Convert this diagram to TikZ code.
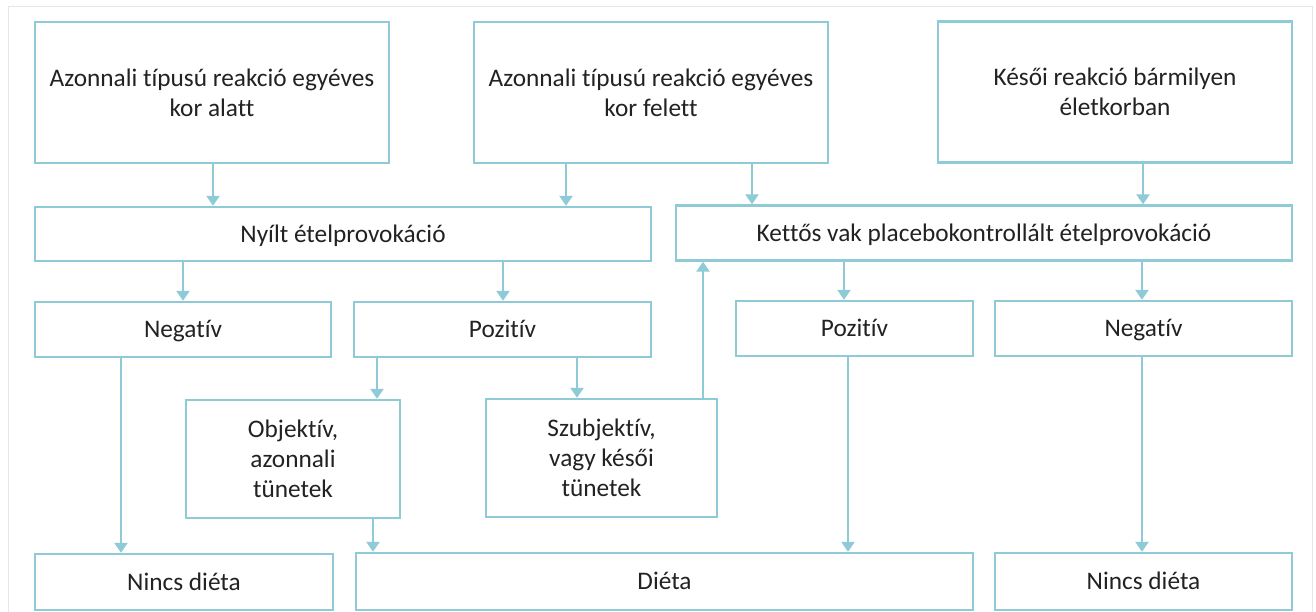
\documentclass[tikz,border=0pt]{standalone}
\usepackage{fontspec}
\setmainfont[Ligatures=NoCommon]{Carlito}
\usetikzlibrary{arrows.meta}
\definecolor{boxblue}{HTML}{8FCBD7}
\definecolor{txt}{HTML}{222222}
\definecolor{framegray}{HTML}{E6E6E6}
\begin{document}
\begin{tikzpicture}[x=1pt,y=-1pt,
  bx/.style={draw=boxblue, line width=2.4pt, inner sep=0pt, text=txt,
    font=\fontsize{25.3}{30}\selectfont, align=center},
  one/.style={text height=18pt, text depth=2pt},
  arr/.style={draw=boxblue, line width=2.4pt, -{Triangle[width=13pt,length=10pt]}}]
\useasboundingbox (0,0) rectangle (1316,611);
\fill[white] (0,0) rectangle (1316,611);
\draw[framegray, line width=1pt] (8,6) rectangle (1312,620);

% row 1
\node[bx, minimum width=354pt, minimum height=141pt] (A1) at (212,92.5) {Azonnali típusú reakció egyéves\\kor alatt};
\node[bx, minimum width=354pt, minimum height=141pt] (A2) at (651,92.5) {Azonnali típusú reakció egyéves\\kor felett};
\node[bx, minimum width=354pt, minimum height=141pt] (A3) at (1115,92) {Késői reakció bármilyen\\életkorban};
% row 2
\node[bx, one, minimum width=616pt, minimum height=54pt] (NY) at (343,234) {Nyílt ételprovokáció};
\node[bx, one, minimum width=616pt, minimum height=55pt] (KV) at (984,233) {Kettős vak placebokontrollált ételprovokáció};
% row 3
\node[bx, one, minimum width=296pt, minimum height=55pt] (NL) at (183,329.5) {Negatív};
\node[bx, one, minimum width=297pt, minimum height=55pt] (PL) at (502.5,329.5) {Pozitív};
\node[bx, one, minimum width=237pt, minimum height=55pt] (PR) at (854.5,328.5) {Pozitív};
\node[bx, one, minimum width=297pt, minimum height=55pt] (NR) at (1143.5,328.5) {Negatív};
% row 4
\node[bx, minimum width=214pt, minimum height=118pt] (OB) at (293,459) {Objektív,\\azonnali\\tünetek};
\node[bx, minimum width=231pt, minimum height=118pt] (SZ) at (601.5,458) {Szubjektív,\\vagy késői\\tünetek};
% row 5
\node[bx, one, minimum width=298pt, minimum height=56pt] (DL) at (184,582) {Nincs diéta};
\node[bx, one, minimum width=617pt, minimum height=57pt] (DI) at (664.5,581.5) {Diéta};
\node[bx, one, minimum width=297pt, minimum height=57pt] (DR) at (1143.5,581.5) {Nincs diéta};

% x positions of connectors
\coordinate (x1) at (213,0);
\coordinate (x2) at (566,0);
\coordinate (x3) at (752,0);
\coordinate (x4) at (1143,0);
\coordinate (x5) at (183,0);
\coordinate (x6) at (503,0);
\coordinate (x7) at (844,0);
\coordinate (x8) at (1142,0);
\coordinate (x9) at (377,0);
\coordinate (x10) at (577,0);
\coordinate (x11) at (703,0);
\coordinate (x12) at (121,0);
\coordinate (x13) at (373,0);
\coordinate (x14) at (848,0);

\draw[arr] (A1.south -| x1) -- (NY.north -| x1);
\draw[arr] (A2.south -| x2) -- (NY.north -| x2);
\draw[arr] (A2.south -| x3) -- (KV.north -| x3);
\draw[arr] (A3.south -| x4) -- (KV.north -| x4);
\draw[arr] (NY.south -| x5) -- (NL.north -| x5);
\draw[arr] (NY.south -| x6) -- (PL.north -| x6);
\draw[arr] (KV.south -| x7) -- (PR.north -| x7);
\draw[arr] (KV.south -| x8) -- (NR.north -| x8);
\draw[arr] (PL.south -| x9) -- (OB.north -| x9);
\draw[arr] (PL.south -| x10) -- (SZ.north -| x10);
\draw[arr] (SZ.north -| x11) -- (KV.south -| x11);
\draw[arr] (NL.south -| x12) -- (DL.north -| x12);
\draw[arr] (OB.south -| x13) -- (DI.north -| x13);
\draw[arr] (PR.south -| x14) -- (DI.north -| x14);
\draw[arr] (NR.south -| x8) -- (DR.north -| x8);
\end{tikzpicture}
\end{document}
